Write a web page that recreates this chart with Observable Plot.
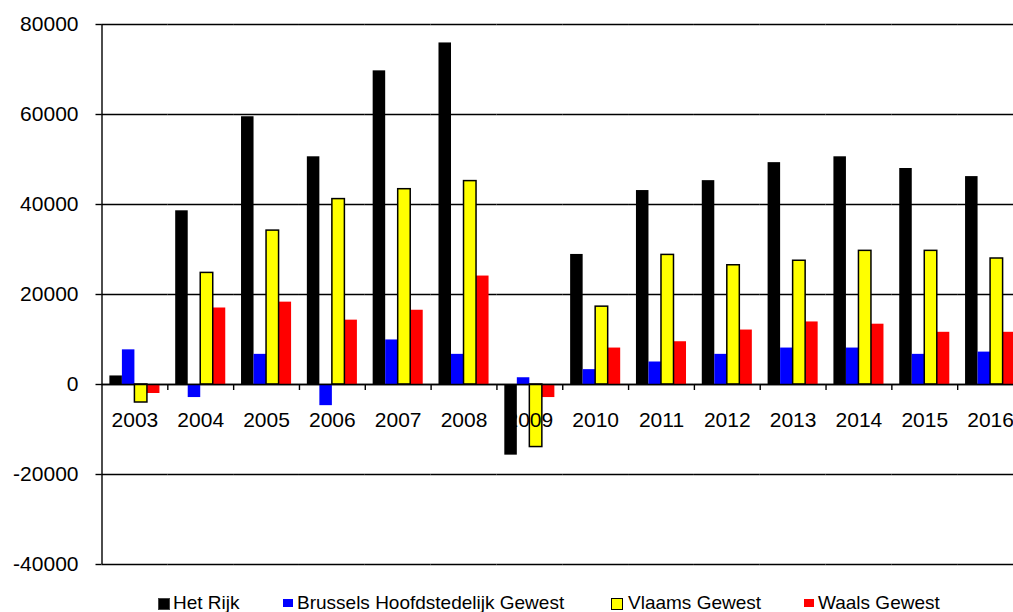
<!DOCTYPE html>
<html><head><meta charset="utf-8">
<script src="https://cdn.jsdelivr.net/npm/d3@7"></script>
<script src="https://cdn.jsdelivr.net/npm/@observablehq/plot@0.6"></script>
<style>
html,body{margin:0;padding:0;background:#fff;overflow:hidden;}
#wrap{width:1013px;position:relative;font-family:"Liberation Sans",Arial,sans-serif;background:#fff;}
#chart{width:1013px;overflow:hidden;}
#chart svg{display:block;max-width:none !important;height:585px !important;}
#legend{position:relative;height:27px;width:1013px;}
.sw{position:absolute;box-sizing:border-box;}
.lt{position:absolute;top:10px;font-size:19px;line-height:16px;height:16px;color:#000;white-space:nowrap;}
</style></head><body>
<div id="wrap"><div id="chart"></div><div id="legend"></div></div>
<script>
const years = [2003, 2004, 2005, 2006, 2007, 2008, 2009, 2010, 2011, 2012, 2013, 2014, 2015, 2016];
const series = ["Het Rijk", "Brussels Hoofdstedelijk Gewest", "Vlaams Gewest", "Waals Gewest"];
const colors = ["#000000", "#0000ff", "#ffff00", "#ff0000"];
const hetRijk = [1900, 38600, 59500, 50600, 69700, 75900, -15700, 28900, 43100, 45300, 49300, 50600, 48000, 46200];
const brussel = [7700, -2900, 6700, -4700, 9900, 6700, 1500, 3300, 5000, 6700, 8100, 8100, 6700, 7200];
const vlaams = [-4000, 24800, 34200, 41200, 43400, 45200, -13900, 17300, 28800, 26500, 27500, 29700, 29700, 28000];
const waals = [-2000, 17000, 18300, 14300, 16500, 24100, -2900, 8100, 9500, 12100, 13900, 13400, 11600, 11600];
const yTicks = [-40000, -20000, 0, 20000, 40000, 60000, 80000];

const valuesBySeries = [hetRijk, brussel, vlaams, waals];
const rows = [];
years.forEach((yr, i) => series.forEach((s, j) => rows.push({year: yr, series: s, value: valuesBySeries[j][i]})));

const W = 1023, ML = 101.5, PO = 0.63;
const facetW = (W - ML) / years.length;
const step = facetW / (series.length + 2 * PO);
const firstCenter = PO * step + step / 2;
const font = '"Liberation Sans", Arial, sans-serif';

const chart = Plot.plot({
  width: W, height: 585,
  marginLeft: ML, marginRight: 0, marginTop: 24, marginBottom: 21,
  style: {fontFamily: font, fontSize: "21px", color: "#000", background: "#fff", overflow: "visible", maxWidth: "none"},
  fx: {domain: years, padding: 0, round: false, axis: null, label: null},
  x: {domain: series, paddingInner: 0, paddingOuter: PO, round: false, axis: null, label: null},
  y: {domain: [-40000, 80000], axis: null, label: null},
  color: {domain: series, range: colors},
  marks: [
    Plot.ruleY(yTicks, {stroke: "#000", strokeWidth: 1.4}),
    Plot.barY(rows.filter(d => d.series !== series[2]), {fx: "year", x: "series", y: "value", fill: "series"}),
    Plot.barY(rows.filter(d => d.series === series[2]), {fx: "year", x: "series", y: "value", fill: "series", stroke: "#000", strokeWidth: 1.5}),
    Plot.ruleY([0], {stroke: "#000", strokeWidth: 1.4}),
    Plot.ruleX(years.slice(1), {fx: d => d, x: () => series[0], y1: () => 0, y2: () => 0, dx: -firstCenter, insetBottom: -6, stroke: "#000", strokeWidth: 1.4}),
    Plot.ruleX([years[0]], {fx: d => d, x: () => series[0], dx: -firstCenter, stroke: "#000", strokeWidth: 1.4}),
    Plot.axisY({ticks: yTicks, tickSize: 6, tickPadding: 17.5, tickFormat: d => String(d), fontSize: 21, label: null, stroke: "#000", strokeWidth: 1.4}),
    Plot.text(years, {fx: d => d, y: () => 0, text: d => String(d), dy: 36, fontSize: 21, fill: "#000"})
  ]
});
document.getElementById("chart").appendChild(chart);

// legend
const legend = document.getElementById("legend");
const swatches = [
  {left: 158, top: 13, w: 12, h: 12, border: "1px solid #444"},
  {left: 283, top: 14, w: 10, h: 8, border: "none"},
  {left: 611, top: 13, w: 12, h: 12, border: "1.5px solid #000"},
  {left: 804, top: 14, w: 10, h: 8, border: "none"}
];
const textLefts = [173, 297, 628, 818];
series.forEach((s, i) => {
  const sw = document.createElement("div");
  sw.className = "sw";
  const o = swatches[i];
  Object.assign(sw.style, {left: o.left + "px", top: o.top + "px", width: o.w + "px", height: o.h + "px", background: colors[i], border: o.border});
  legend.appendChild(sw);
  const t = document.createElement("div");
  t.className = "lt";
  t.style.left = textLefts[i] + "px";
  t.textContent = s;
  legend.appendChild(t);
});
</script>
</body></html>
